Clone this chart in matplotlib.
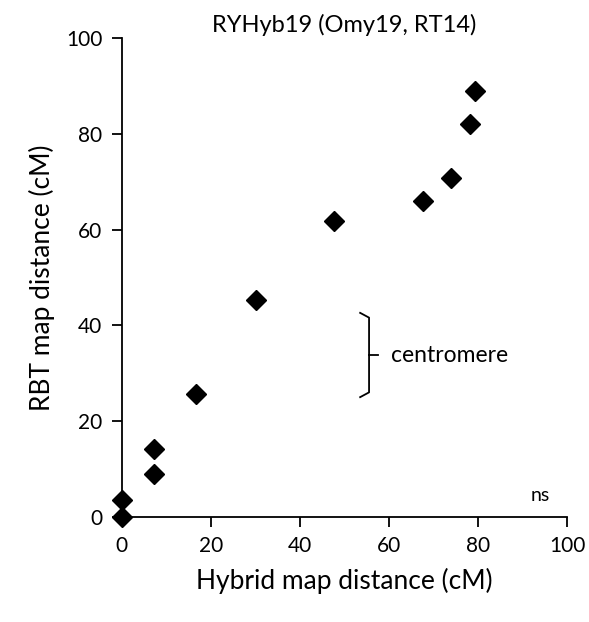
import numpy as np
import matplotlib.pyplot as plt

plt.rcParams['font.family'] = ['Lato', 'DejaVu Sans']

hybrid = [0, 0, 7.2, 7.2, 16.6, 30.1, 47.6, 67.6, 73.9, 78.2, 79.3]
rbt = [0, 3.5, 9.0, 14.2, 25.7, 45.3, 61.8, 66.0, 70.8, 82.0, 88.9]

cen_top = 42.6
cen_bot = 25.0
cen_x = 55.5

fig = plt.figure(figsize=(5.89, 6.22), dpi=100)
ax = fig.add_axes([0.207, 0.169, 0.756, 0.770])

ax.plot(hybrid, rbt, linestyle='none', marker='D', markersize=10.5,
        color='black', clip_on=False, zorder=3)

# centromere bracket
mid = (cen_top + cen_bot) / 2
ax.plot([cen_x - 2, cen_x, cen_x, cen_x - 2], [cen_top, cen_top - 1.0, cen_bot + 1.0, cen_bot],
        color='black', lw=1.3)
ax.plot([cen_x, cen_x + 2], [mid, mid], color='black', lw=1.3)
ax.text(cen_x + 5, mid, 'centromere', fontsize=16.5, va='center', ha='left')
ax.text(94, 4.4, 'ns', fontsize=14, ha='center', va='center')

ax.set_xlim(0, 100)
ax.set_ylim(0, 100)
ax.set_xticks(np.arange(0, 101, 20))
ax.set_yticks(np.arange(0, 101, 20))
for s in ['top', 'right']:
    ax.spines[s].set_visible(False)
for s in ['left', 'bottom']:
    ax.spines[s].set_linewidth(1.3)
ax.tick_params(direction='out', length=7, width=1.3, labelsize=15, pad=7)

ax.set_xlabel('Hybrid map distance (cM)', fontsize=19, labelpad=8)
ax.set_ylabel('RBT map distance (cM)', fontsize=19, labelpad=8)
ax.set_title('RYHyb19 (Omy19, RT14)', fontsize=17, pad=4)

fig.savefig('out.png', dpi=100)
